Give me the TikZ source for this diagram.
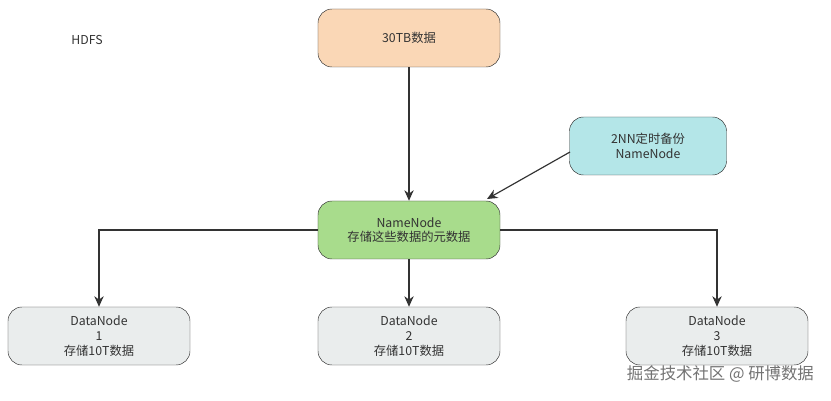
\documentclass[tikz,border=0pt]{standalone}
\usepackage{fontspec}
\setmainfont{Noto Sans CJK SC}
\usetikzlibrary{arrows.meta}
\definecolor{peach}{HTML}{FAD7B6}
\definecolor{cyanbox}{HTML}{B4E6E8}
\definecolor{greenbox}{HTML}{A8DC8C}
\definecolor{greybox}{HTML}{EAEDED}
\tikzset{
  box/.style={draw=black!80, rounded corners=12pt, minimum width=5.46cm, minimum height=1.74cm, align=center, font=\fontsize{10.5}{12.5}\selectfont, text=black!80},
  link/.style={draw=black!80, line width=1pt, -{Stealth[length=9pt,width=8pt]}}
}
\begin{document}
\begin{tikzpicture}[x=0.03cm,y=-0.03cm]
        \useasboundingbox (0,0) rectangle (831,401);

        \node[font=\fontsize{10.5}{12.5}\selectfont, text=black!80] (hdfs) at (87,40) {HDFS};

        % Boxes
        \node[box, fill=peach] (data) at (409,38) {30TB数据};
        \node[box, fill=cyanbox, minimum width=4.71cm] (snn) at (648,146) {2NN定时备份\\NameNode};
        \node[box, fill=greenbox] (nn) at (409,230) {NameNode\\存储这些数据的元数据};
        \node[box, fill=greybox] (dn1) at (99,336) {DataNode\\1\\存储10T数据};
        \node[box, fill=greybox] (dn2) at (409,336) {DataNode\\2\\存储10T数据};
        \node[box, fill=greybox] (dn3) at (717,336) {DataNode\\3\\存储10T数据};

        % Arrows
        \coordinate (from) at (570,152);
        \coordinate (to) at (487,199);
        \draw[link] (data) -- (nn);
        \draw[link] (from) -- (to);
        \draw[link] (nn.west) -| (dn1.north);
        \draw[link] (nn) -- (dn2);
        \draw[link] (nn.east) -| (dn3.north);

        \node[font=\fontsize{14}{16}\selectfont, text=black!55, anchor=east] (mark) at (818,374) {掘金技术社区 @ 研博数据};
\end{tikzpicture}
\end{document}
